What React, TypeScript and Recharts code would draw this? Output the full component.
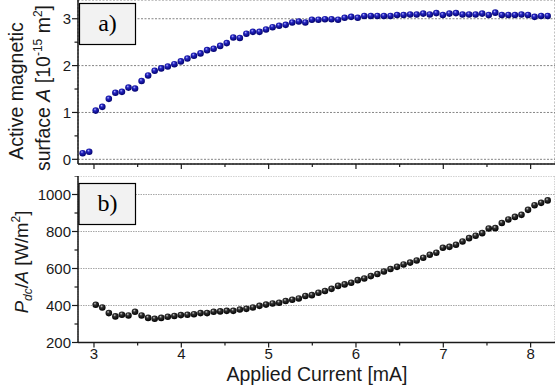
import React from 'react';
import { ScatterChart, Scatter, XAxis, YAxis, CartesianGrid } from 'recharts';

// applied current [mA], one sweep step per point
const currents = [
  2.870, 2.945, 3.020, 3.095, 3.170, 3.245, 3.320, 3.395, 3.470, 3.545,
  3.620, 3.695, 3.770, 3.845, 3.920, 3.995, 4.070, 4.145, 4.220, 4.295,
  4.370, 4.445, 4.520, 4.595, 4.670, 4.745, 4.820, 4.895, 4.970, 5.045,
  5.120, 5.195, 5.270, 5.345, 5.420, 5.495, 5.570, 5.645, 5.720, 5.795,
  5.870, 5.945, 6.020, 6.095, 6.170, 6.245, 6.320, 6.395, 6.470, 6.545,
  6.620, 6.695, 6.770, 6.845, 6.920, 6.995, 7.070, 7.145, 7.220, 7.295,
  7.370, 7.445, 7.520, 7.595, 7.670, 7.745, 7.820, 7.895, 7.970, 8.045,
  8.120, 8.195,
];

// a) active magnetic surface [1e-15 m^2]
const activeSurface = [
  0.13, 0.16, 1.04, 1.12, 1.29, 1.42, 1.44, 1.53, 1.51, 1.67,
  1.79, 1.89, 1.94, 1.98, 2.03, 2.09, 2.15, 2.21, 2.26, 2.33,
  2.36, 2.42, 2.48, 2.60, 2.59, 2.68, 2.72, 2.72, 2.77, 2.82,
  2.85, 2.87, 2.92, 2.94, 2.92, 2.98, 2.98, 2.99, 2.99, 2.98,
  3.02, 3.04, 3.02, 3.06, 3.06, 3.06, 3.06, 3.06, 3.08, 3.08,
  3.09, 3.09, 3.11, 3.09, 3.12, 3.08, 3.11, 3.12, 3.09, 3.09,
  3.09, 3.11, 3.08, 3.13, 3.08, 3.08, 3.08, 3.09, 3.08, 3.04,
  3.06, 3.06,
];

// b) Pdc/A [W/m^2], measured from the third current step on
const powerDensity = [
  404, 389, 359, 341, 350, 346, 366, 346, 333, 328,
  333, 339, 343, 348, 350, 353, 359, 359, 366, 368,
  371, 371, 378, 382, 389, 398, 405, 411, 415, 424,
  431, 438, 451, 456, 469, 478, 490, 506, 514, 523,
  537, 546, 559, 570, 584, 597, 609, 622, 632, 643,
  658, 674, 685, 712, 717, 728, 746, 764, 777, 791,
  816, 818, 846, 865, 879, 890, 917, 942, 955, 968,
];

const xMajorTicks = [3, 4, 5, 6, 7, 8];
const xAllTicks = [3, 3.5, 4, 4.5, 5, 5.5, 6, 6.5, 7, 7.5, 8];
const surfaceMajorTicks = [0, 1, 2, 3];
const surfaceAllTicks = [0, 0.5, 1, 1.5, 2, 2.5, 3];
const powerMajorTicks = [200, 400, 600, 800, 1000];
const powerAllTicks = [200, 300, 400, 500, 600, 700, 800, 900, 1000, 1100];

const X_DOMAIN: [number, number] = [2.817, 8.279];
const SURFACE_DOMAIN: [number, number] = [-0.1, 3.4];
const POWER_DOMAIN: [number, number] = [200, 1100];

const surfaceData = currents.map((x, i) => ({ x, y: activeSurface[i] }));
const powerData = powerDensity.map((y, i) => ({ x: currents[i + 2], y }));

const FONT = '"Liberation Sans", Arial, sans-serif';
const INK = '#1a1a1a';
const AXIS_LEFT = 78;

// axisY: where the x axis line sits inside its chart
const makeXTick = (axisY: number, withLabel: boolean) => (props: any) => {
  const { x, payload } = props;
  const major = Number.isInteger(payload.value);
  return (
    <g>
      <line x1={x} x2={x} y1={axisY} y2={axisY + (major ? 5 : 3)} stroke={INK} strokeWidth={1.2} />
      {withLabel && major && (
        <text x={x} y={axisY + 16} textAnchor="middle" fontSize={15} fontFamily={FONT} fill={INK}>
          {payload.value}
        </text>
      )}
    </g>
  );
};

const makeYTick = (isMajor: (v: number) => boolean) => (props: any) => {
  const { y, payload } = props;
  const major = isMajor(payload.value);
  const x = AXIS_LEFT;
  return (
    <g>
      <line x1={x - (major ? 6 : 3.5)} x2={x} y1={y} y2={y} stroke={INK} strokeWidth={1.2} />
      {major && (
        <text x={x - 7} y={y} dy="0.36em" textAnchor="end" fontSize={15} fontFamily={FONT} fill={INK}>
          {payload.value}
        </text>
      )}
    </g>
  );
};

const ball = (fill: string) => (props: any) => (
  <circle cx={props.cx} cy={props.cy} r={3.3} fill={fill} />
);

const BlueBall = ball('url(#ballBlue)');
const BlackBall = ball('url(#ballBlack)');

export default function App() {
  return (
    <div style={{ position: 'fixed', left: 0, top: 0, width: 555, height: 388, background: '#fff' }}>
      <svg width={0} height={0} style={{ position: 'absolute' }}>
        <defs>
          <radialGradient id="ballBlue" cx="0.45" cy="0.4" r="0.6" fx="0.38" fy="0.3">
            <stop offset="0" stopColor="#b4b4ff" />
            <stop offset="0.35" stopColor="#2424c0" />
            <stop offset="1" stopColor="#00006a" />
          </radialGradient>
          <radialGradient id="ballBlack" cx="0.45" cy="0.4" r="0.6" fx="0.38" fy="0.3">
            <stop offset="0" stopColor="#d0d0d0" />
            <stop offset="0.35" stopColor="#303030" />
            <stop offset="1" stopColor="#000" />
          </radialGradient>
        </defs>
      </svg>

      <div style={{ position: 'absolute', left: 0, top: 0 }}>
        <ScatterChart width={555} height={176} margin={{ top: 0, right: 0, bottom: 0, left: 0 }}>
          <CartesianGrid xAxisId="grid" yAxisId="grid" stroke="#858585" strokeDasharray="2 1.5" />
          <XAxis
            xAxisId="x"
            type="number"
            dataKey="x"
            domain={X_DOMAIN}
            ticks={xAllTicks}
            allowDataOverflow
            height={12}
            tickLine={false}
            axisLine={{ stroke: INK, strokeWidth: 1.5 }}
            tick={makeXTick(164, false)}
            interval={0}
          />
          <YAxis
            yAxisId="y"
            type="number"
            dataKey="y"
            domain={SURFACE_DOMAIN}
            ticks={surfaceAllTicks}
            allowDataOverflow
            width={AXIS_LEFT}
            tickLine={false}
            axisLine={{ stroke: INK, strokeWidth: 1.5 }}
            tick={makeYTick((v) => Number.isInteger(v))}
            interval={0}
          />
          <XAxis xAxisId="grid" type="number" domain={X_DOMAIN} ticks={xMajorTicks} hide height={0} allowDataOverflow />
          <YAxis yAxisId="grid" type="number" domain={SURFACE_DOMAIN} ticks={surfaceMajorTicks} hide width={0} allowDataOverflow />
          <Scatter xAxisId="x" yAxisId="y" data={surfaceData} shape={BlueBall} isAnimationActive={false} />
        </ScatterChart>
      </div>

      <div style={{ position: 'absolute', left: 0, top: 176 }}>
        <ScatterChart width={555} height={212} margin={{ top: 0, right: 0, bottom: 0, left: 0 }}>
          <CartesianGrid xAxisId="grid" yAxisId="grid" stroke="#a8a8a8" strokeDasharray="1.5 1" />
          <XAxis
            xAxisId="x"
            type="number"
            dataKey="x"
            domain={X_DOMAIN}
            ticks={xAllTicks}
            allowDataOverflow
            height={45.5}
            tickLine={false}
            axisLine={{ stroke: INK, strokeWidth: 1.5 }}
            tick={makeXTick(166.5, true)}
            interval={0}
          />
          <YAxis
            yAxisId="y"
            type="number"
            dataKey="y"
            domain={POWER_DOMAIN}
            ticks={powerAllTicks}
            allowDataOverflow
            width={AXIS_LEFT}
            tickLine={false}
            axisLine={{ stroke: INK, strokeWidth: 1.5 }}
            tick={makeYTick((v) => v % 200 === 0)}
            interval={0}
          />
          <XAxis xAxisId="grid" type="number" domain={X_DOMAIN} ticks={xMajorTicks} hide height={0} allowDataOverflow />
          <YAxis yAxisId="grid" type="number" domain={POWER_DOMAIN} ticks={powerMajorTicks} hide width={0} allowDataOverflow />
          <Scatter xAxisId="x" yAxisId="y" data={powerData} shape={BlackBall} isAnimationActive={false} />
        </ScatterChart>
      </div>

      {/* panel tags and axis titles */}
      <svg width={555} height={388} style={{ position: 'absolute', left: 0, top: 0, pointerEvents: 'none' }}>
        <rect x={79.5} y={3.5} width={56} height={41} fill="#f2f2f2" stroke="#000" strokeWidth={1.2} />
        <text x={107.5} y={31} textAnchor="middle" fontSize={24} fontFamily='"Liberation Serif", "DejaVu Serif", serif' fill="#000">a)</text>
        <rect x={79} y={183.5} width={56.5} height={41} fill="#f2f2f2" stroke="#000" strokeWidth={1.2} />
        <text x={107.5} y={211} textAnchor="middle" fontSize={24} fontFamily='"Liberation Serif", "DejaVu Serif", serif' fill="#000">b)</text>

        <g fontFamily={FONT} fill={INK} fontSize={19.5}>
          <text transform="translate(23,91) rotate(-90)" textAnchor="middle">Active magnetic</text>
          <text transform="translate(50,88) rotate(-90)" textAnchor="middle">
            surface <tspan fontStyle="italic">A</tspan> [10<tspan fontSize={12} dy={-8}>-15</tspan>
            <tspan dy={8}> m</tspan><tspan fontSize={12} dy={-8}>2</tspan><tspan dy={8}>]</tspan>
          </text>
          <text transform="translate(28,262) rotate(-90)" textAnchor="middle" fontSize={18.5}>
            <tspan fontStyle="italic">P</tspan><tspan fontStyle="italic" fontSize={12} dy={4}>dc</tspan>
            <tspan dy={-4}>/</tspan><tspan fontStyle="italic">A</tspan> [W/m<tspan fontSize={12} dy={-8}>2</tspan><tspan dy={8}>]</tspan>
          </text>
          <text x={317} y={381} textAnchor="middle">Applied Current [mA]</text>
        </g>
      </svg>
    </div>
  );
}
